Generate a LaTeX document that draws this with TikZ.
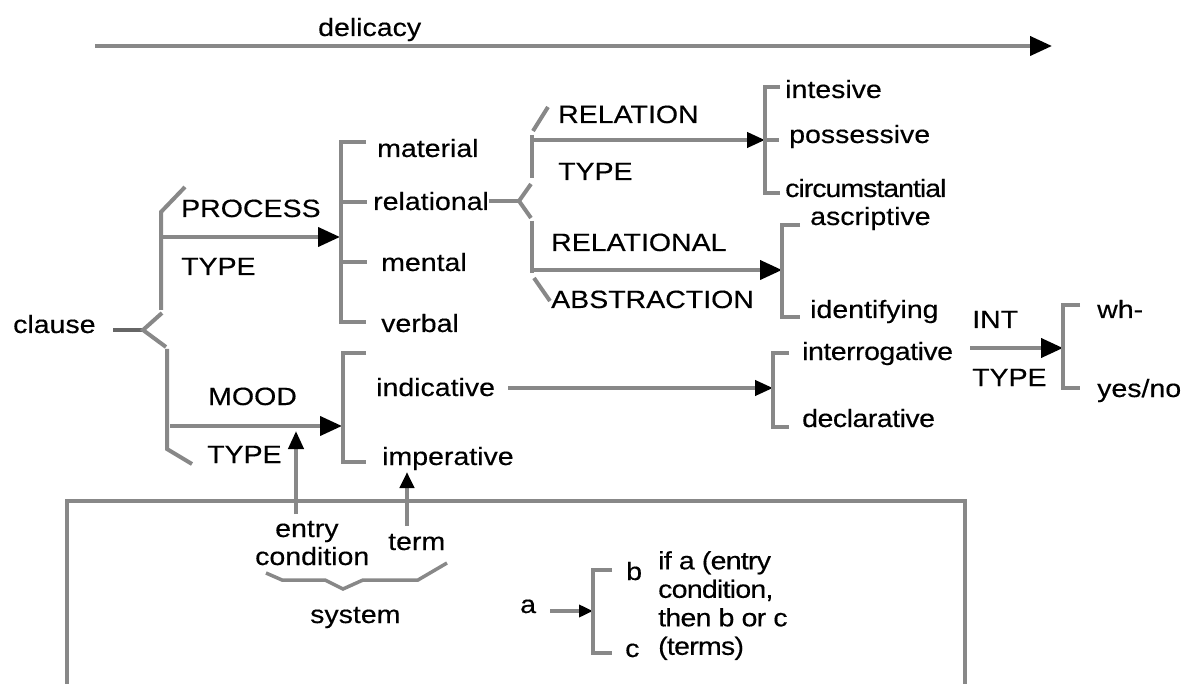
\documentclass[tikz,border=0pt]{standalone}
\usepackage{fontspec}
\setmainfont{Liberation Sans}[FakeStretch=1.14,FakeBold=0.35]
\usetikzlibrary{arrows.meta}
\definecolor{linegray}{HTML}{888888}
\begin{document}
\begin{tikzpicture}[x=1pt,y=-1pt,
  line/.style={draw=linegray,line width=4pt},
  tipA/.style={-{Triangle[length=22pt,width=19pt,color=black]}},
  tipB/.style={-{Triangle[length=18pt,width=15pt,color=black]}},
  tipC/.style={-{Triangle[length=14pt,width=12pt,color=black]}},
  lbl/.style={anchor=base west,inner sep=0pt,font=\fontsize{25}{29}\selectfont}
]
\useasboundingbox (0,0) rectangle (1183,684);

% ---- delicacy axis ----
\node[lbl] (delicacy) at (318,36) {delicacy};
\coordinate (dl) at (95,46);
\coordinate (dr) at (1052,46);
\draw[line,tipA] (dl) -- (dr);

% ---- clause and its two simultaneous systems ----
\node[lbl] (clause) at (13,333) {clause};
\coordinate (cs) at (113,330);
\coordinate (cj) at (143,330);
\draw[draw=black!60,line width=4pt] (cs) -- (cj);
\coordinate (cu) at (162,313);
\coordinate (cd) at (166,347);
\draw[line] (cu) -- (cj) -- (cd);
% upper bar (PROCESS TYPE)
\coordinate (pb1) at (161,212);
\coordinate (pb2) at (161,310);
\coordinate (pbt) at (185,187);
\draw[line] (pb2) -- (pb1) -- (pbt);
% lower bar (MOOD TYPE)
\coordinate (mb1) at (167,349);
\coordinate (mb2) at (167,449);
\coordinate (mbt) at (192,464);
\draw[line] (mb1) -- (mb2) -- (mbt);

% ---- PROCESS TYPE ----
\node[lbl] (process) at (181,217) {PROCESS};
\node[lbl] (ptype) at (181,275) {TYPE};
\coordinate (pa1) at (163,237);
\coordinate (pa2) at (340,237);
\draw[line,tipA] (pa1) -- (pa2);
\coordinate (pkt) at (366,142);
\coordinate (pkb) at (366,322);
\draw[line] (pkt) -- (341,142) -- (341,322) -- (pkb);
\coordinate (prl) at (341,202);
\coordinate (prr) at (367,202);
\coordinate (pml) at (341,262);
\coordinate (pmr) at (367,262);
\draw[line] (prl) -- (prr);
\draw[line] (pml) -- (pmr);
\node[lbl] (material) at (377,157) {material};
\node[lbl] (relational) at (373,210) {relational};
\node[lbl] (mental) at (381,271) {mental};
\node[lbl] (verbal) at (381,332) {verbal};

% ---- relational: two simultaneous systems ----
\coordinate (rt1) at (489,201);
\coordinate (rj) at (519,201);
\coordinate (ru) at (531,184);
\coordinate (rd) at (531,218);
\draw[line] (rt1) -- (rj);
\draw[line] (ru) -- (rj) -- (rd);
\coordinate (rb1) at (532,135);
\coordinate (rb2) at (532,178);
\coordinate (rbt) at (548,107);
\draw[line] (rb2) -- (rb1);
\draw[line] (533,131) -- (rbt);
\coordinate (rl1) at (532,221);
\coordinate (rl2) at (532,273);
\coordinate (rlt) at (550,301);
\draw[line] (rl1) -- (rl2);
\draw[line] (534,278) -- (rlt);

\node[lbl] (relation) at (558,123) {RELATION};
\node[lbl] (rtype) at (558,180) {TYPE};
\node[lbl] (relational2) at (551,251) {RELATIONAL};
\node[lbl] (abstraction) at (551,308) {ABSTRACTION};
\coordinate (ra1) at (530,140);
\coordinate (ra2) at (765,140);
\draw[line,tipB] (ra1) -- (ra2);
\coordinate (aa1) at (530,270);
\coordinate (aa2) at (782,270);
\draw[line,tipA] (aa1) -- (aa2);

% RELATION TYPE terms
\coordinate (tkt) at (780,87);
\coordinate (tkb) at (780,193);
\draw[line] (tkt) -- (765,87) -- (765,193) -- (tkb);
\coordinate (tm1) at (765,140);
\coordinate (tm2) at (779,140);
\draw[line] (tm1) -- (tm2);
\node[lbl] (intesive) at (785,98) {intesive};
\node[lbl] (possessive) at (789,143) {possessive};
\node[lbl,font=\fontsize{25}{29}\selectfont\addfontfeature{LetterSpace=-4}] (circ) at (785,197) {circumstantial};

% RELATIONAL ABSTRACTION terms
\coordinate (akt) at (800,225);
\coordinate (akb) at (800,317);
\draw[line] (akt) -- (782,225) -- (782,317) -- (akb);
\node[lbl] (ascriptive) at (810,225) {ascriptive};
\node[lbl] (identifying) at (810,318) {identifying};

% ---- MOOD TYPE ----
\node[lbl] (mood) at (208,405) {MOOD};
\node[lbl] (mtype) at (207,463) {TYPE};
\coordinate (ma1) at (170,426);
\coordinate (ma2) at (342,426);
\draw[line,tipA] (ma1) -- (ma2);
\coordinate (mkt) at (366,353);
\coordinate (mkb) at (366,462);
\draw[line] (mkt) -- (343,353) -- (343,462) -- (mkb);
\node[lbl] (indicative) at (376,396) {indicative};
\node[lbl] (imperative) at (382,465) {imperative};

% indicative -> interrogative / declarative
\coordinate (ia1) at (508,388);
\coordinate (ia2) at (773,388);
\draw[line,tipB] (ia1) -- (ia2);
\coordinate (ikt) at (789,353);
\coordinate (ikb) at (789,427);
\draw[line] (ikt) -- (773,353) -- (773,427) -- (ikb);
\node[lbl,font=\fontsize{25}{29}\selectfont\addfontfeature{LetterSpace=-2}] (interrogative) at (802,360) {interrogative};
\node[lbl,font=\fontsize{25}{29}\selectfont\addfontfeature{LetterSpace=-2}] (declarative) at (802,427) {declarative};

% INT TYPE
\node[lbl] (int) at (972,328) {INT};
\node[lbl] (itype) at (972,386) {TYPE};
\coordinate (na1) at (970,348);
\coordinate (na2) at (1063,348);
\draw[line,tipA] (na1) -- (na2);
\coordinate (nkt) at (1080,305);
\coordinate (nkb) at (1080,388);
\draw[line] (nkt) -- (1063,305) -- (1063,388) -- (nkb);
\node[lbl] (wh) at (1097,318) {wh-};
\node[lbl] (yesno) at (1097,397) {yes/no};

% ---- key box ----
\coordinate (bx1) at (67,684);
\coordinate (bx2) at (67,501);
\coordinate (bx3) at (965,501);
\coordinate (bx4) at (965,684);
\draw[line] (bx1) -- (bx2) -- (bx3) -- (bx4);

% pointers from the key up to the MOOD system
\node[lbl] (entry) at (275,537) {entry};
\node[lbl] (condition) at (255,565) {condition};
\node[lbl] (term) at (388,550) {term};
\coordinate (ea1) at (296,514);
\coordinate (ea2) at (296,431);
\draw[line,-{Triangle[length=18pt,width=15pt,color=black]}] (ea1) -- (ea2);
\coordinate (ta1) at (407,526);
\coordinate (ta2) at (407,472);
\draw[line,-{Triangle[length=16pt,width=14pt,color=black]}] (ta1) -- (ta2);

% brace under entry condition and term
\coordinate (sb1) at (266,573);
\coordinate (sb2) at (282,580);
\coordinate (sb3) at (325,580);
\coordinate (sb4) at (343,589);
\coordinate (sb5) at (363,580);
\coordinate (sb6) at (418,580);
\coordinate (sb7) at (447,563);
\draw[line,line width=3.5pt] (sb1) -- (sb2) -- (sb3) -- (sb4) -- (sb5) -- (sb6) -- (sb7);
\node[lbl] (system) at (310,623) {system};

% notation legend
\node[lbl] (ka) at (520,613) {a};
\coordinate (ka1) at (550,611);
\coordinate (ka2) at (593,611);
\draw[line,tipC] (ka1) -- (ka2);
\coordinate (kkt) at (612,570);
\coordinate (kkb) at (612,653);
\draw[line] (kkt) -- (593,570) -- (593,653) -- (kkb);
\node[lbl] (kb) at (626,580) {b};
\node[lbl] (kc) at (625,657) {c};
\node[lbl,anchor=north west,align=left,font=\fontsize{25}{28.5}\selectfont\addfontfeature{LetterSpace=-3}] (note) at (658,551)
  {if a (entry\\condition,\\then b or c\\(terms)};
\end{tikzpicture}
\end{document}
